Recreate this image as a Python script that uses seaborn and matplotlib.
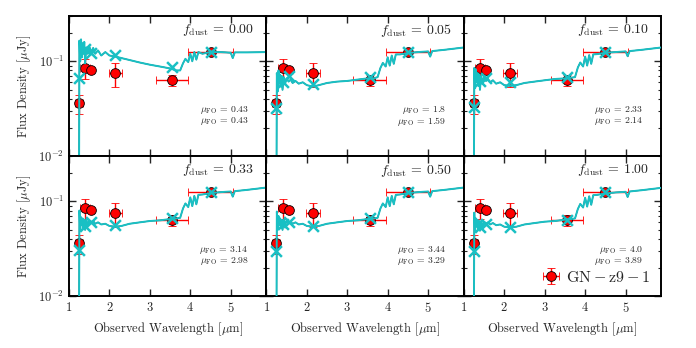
import numpy as np
import pandas as pd
import matplotlib
matplotlib.use("Agg")
import matplotlib.pyplot as plt
import seaborn as sns

# ---------------- data ----------------
fdust_labels = ["0.00", "0.05", "0.10", "0.33", "0.50", "1.00"]
mu_fo_a = ["0.43", "1.8", "2.33", "3.14", "3.44", "4.0"]
mu_fo_b = ["0.43", "1.59", "2.14", "2.98", "3.29", "3.89"]

# observed photometry of GN-z9-1
obs_wave = [1.25, 1.40, 1.55, 2.15, 3.55, 4.50]
obs_wave_err = [0.10, 0.12, 0.0, 0.17, 0.40, 0.55]
obs_flux = [0.036, 0.085, 0.081, 0.075, 0.063, 0.126]
obs_flux_err = [0.008, 0.020, 0.0, 0.022, 0.008, 0.010]

# model photometry (crosses) per panel
model_phot = [
    [0.066, 0.134, 0.122, 0.115, 0.086, 0.126],
    [0.032, 0.060, 0.070, 0.058, 0.069, 0.126],
    [0.033, 0.062, 0.066, 0.060, 0.069, 0.126],
    [0.031, 0.055, 0.060, 0.056, 0.066, 0.126],
    [0.030, 0.057, 0.060, 0.055, 0.066, 0.126],
    [0.030, 0.054, 0.058, 0.054, 0.064, 0.126],
]

# model spectra wavelength grid
spec_wave = [1.24, 1.25, 1.26, 1.28, 1.30, 1.32, 1.34, 1.36, 1.38, 1.40,
             1.43, 1.46, 1.50, 1.55, 1.60, 1.65, 1.72, 1.80, 1.90, 2.00,
             2.15, 2.30, 2.50, 2.75, 3.00, 3.25, 3.50, 3.65, 3.75, 3.82,
             3.88, 3.95, 4.00, 4.05, 4.10, 4.15, 4.20, 4.30, 4.50, 4.75,
             5.00, 5.05, 5.10, 5.40, 5.90]

spec_000 = [0.005, 0.005, 0.165, 0.100, 0.170, 0.110, 0.155, 0.120, 0.160, 0.095,
            0.140, 0.120, 0.145, 0.125, 0.138, 0.120, 0.130, 0.115, 0.125, 0.115,
            0.112, 0.108, 0.103, 0.097, 0.092, 0.088, 0.084, 0.080, 0.080, 0.095,
            0.106, 0.098, 0.120, 0.100, 0.125, 0.104, 0.125, 0.120, 0.125, 0.125,
            0.123, 0.108, 0.124, 0.124, 0.125]
spec_005 = [0.005, 0.005, 0.075, 0.048, 0.080, 0.058, 0.072, 0.054, 0.070, 0.050,
            0.068, 0.057, 0.066, 0.061, 0.064, 0.059, 0.062, 0.058, 0.060, 0.056,
            0.054, 0.056, 0.059, 0.061, 0.062, 0.064, 0.066, 0.066, 0.068, 0.085,
            0.096, 0.088, 0.110, 0.090, 0.115, 0.094, 0.118, 0.118, 0.122, 0.125,
            0.127, 0.112, 0.128, 0.132, 0.140]
spec_010 = [0.005, 0.005, 0.085, 0.052, 0.082, 0.060, 0.075, 0.055, 0.072, 0.050,
            0.070, 0.058, 0.068, 0.062, 0.065, 0.060, 0.063, 0.058, 0.060, 0.056,
            0.055, 0.056, 0.059, 0.061, 0.063, 0.065, 0.066, 0.067, 0.068, 0.086,
            0.097, 0.088, 0.112, 0.090, 0.116, 0.094, 0.118, 0.119, 0.123, 0.125,
            0.127, 0.113, 0.128, 0.132, 0.140]
spec_033 = [0.005, 0.005, 0.080, 0.050, 0.068, 0.056, 0.066, 0.052, 0.064, 0.050,
            0.064, 0.056, 0.062, 0.060, 0.062, 0.058, 0.060, 0.057, 0.058, 0.055,
            0.054, 0.055, 0.058, 0.060, 0.062, 0.063, 0.065, 0.066, 0.067, 0.084,
            0.095, 0.087, 0.110, 0.089, 0.114, 0.093, 0.117, 0.118, 0.122, 0.125,
            0.127, 0.112, 0.128, 0.132, 0.140]
spec_050 = [0.005, 0.005, 0.078, 0.050, 0.070, 0.056, 0.066, 0.052, 0.064, 0.050,
            0.064, 0.056, 0.062, 0.060, 0.061, 0.058, 0.060, 0.057, 0.058, 0.055,
            0.054, 0.055, 0.058, 0.060, 0.062, 0.063, 0.065, 0.066, 0.067, 0.084,
            0.095, 0.087, 0.110, 0.089, 0.114, 0.093, 0.117, 0.118, 0.122, 0.125,
            0.127, 0.112, 0.128, 0.132, 0.140]
spec_100 = [0.005, 0.005, 0.076, 0.048, 0.066, 0.054, 0.064, 0.051, 0.062, 0.049,
            0.062, 0.055, 0.060, 0.058, 0.060, 0.057, 0.059, 0.056, 0.057, 0.054,
            0.053, 0.054, 0.057, 0.059, 0.061, 0.062, 0.064, 0.065, 0.066, 0.083,
            0.094, 0.086, 0.109, 0.088, 0.113, 0.092, 0.116, 0.117, 0.121, 0.124,
            0.126, 0.111, 0.127, 0.131, 0.139]
spectra = [spec_000, spec_005, spec_010, spec_033, spec_050, spec_100]

x_ticks = [1, 2, 3, 4, 5]

# ---------------- style ----------------
sns.set_style("ticks")
plt.rcParams["font.family"] = ["serif"]
plt.rcParams["font.serif"] = ["cmr10", "DejaVu Serif"]
plt.rcParams["mathtext.fontset"] = "cm"
plt.rcParams["axes.formatter.use_mathtext"] = True
plt.rcParams["axes.unicode_minus"] = False

CYAN = "#19c0c4"

fig, axes = plt.subplots(2, 3, figsize=(6.96, 3.48), dpi=100, sharex=True, sharey=True)
fig.subplots_adjust(left=0.099, right=0.95, top=0.954, bottom=0.149, wspace=0, hspace=0)

eb = None
for i, ax in enumerate(axes.flat):
    # observed data
    eb = ax.errorbar(obs_wave, obs_flux, xerr=obs_wave_err, yerr=obs_flux_err,
                     fmt="o", color="red", ecolor="red", mec="black", mew=0.6,
                     ms=7, capsize=3, elinewidth=1.0, capthick=1.0, zorder=2)
    # model spectrum
    df = pd.DataFrame({"wave": spec_wave, "flux": spectra[i]})
    sns.lineplot(data=df, x="wave", y="flux", ax=ax, color="black", lw=0.8,
                 sort=False, estimator=None, zorder=3, legend=False)
    sns.lineplot(data=df, x="wave", y="flux", ax=ax, color=CYAN, lw=1.4,
                 sort=False, estimator=None, zorder=4, legend=False)
    dfm = pd.DataFrame({"wave": obs_wave, "flux": model_phot[i]})
    sns.scatterplot(data=dfm, x="wave", y="flux", ax=ax, marker="x", s=60,
                    color=CYAN, linewidth=1.8, zorder=5, legend=False)

    ax.set_yscale("log")
    ax.set_xlim(1, 5.88)
    ax.set_ylim(0.01, 0.3)
    ax.set_xticks(x_ticks)
    ax.tick_params(which="both", direction="in", top=True, right=True, labelsize=9)
    ax.tick_params(which="major", length=5, width=1.0)
    ax.tick_params(which="minor", length=2.5, width=0.8)
    for s in ax.spines.values():
        s.set_linewidth(1.4)
        s.set_color("black")
    ax.set_xlabel("")
    ax.set_ylabel("")
    if ax.get_legend() is not None:
        ax.get_legend().remove()

    ax.text(0.94, 0.9, r"$f_{\mathrm{dust}}$ = " + fdust_labels[i],
            transform=ax.transAxes, ha="right", va="center", fontsize=10)
    ax.text(0.91, 0.33, r"$\mu_{\mathrm{FO}}$ = " + mu_fo_a[i],
            transform=ax.transAxes, ha="right", va="center", fontsize=7)
    ax.text(0.91, 0.25, r"$\mu_{\mathrm{FO}}$ = " + mu_fo_b[i],
            transform=ax.transAxes, ha="right", va="center", fontsize=7)

for ax in axes[:, 0]:
    ax.set_ylabel(r"Flux Density [$\mu$Jy]", fontsize=9)
for ax in axes[1, :]:
    ax.set_xlabel(r"Observed Wavelength [$\mu$m]", fontsize=9)

axes[1, 2].legend([eb], [r"$\mathrm{GN-z9-1}$"], loc="lower right",
                  frameon=False, fontsize=11.5, handletextpad=0.3,
                  borderaxespad=0.3, handlelength=1.2)

fig.savefig("out.png", dpi=100)
